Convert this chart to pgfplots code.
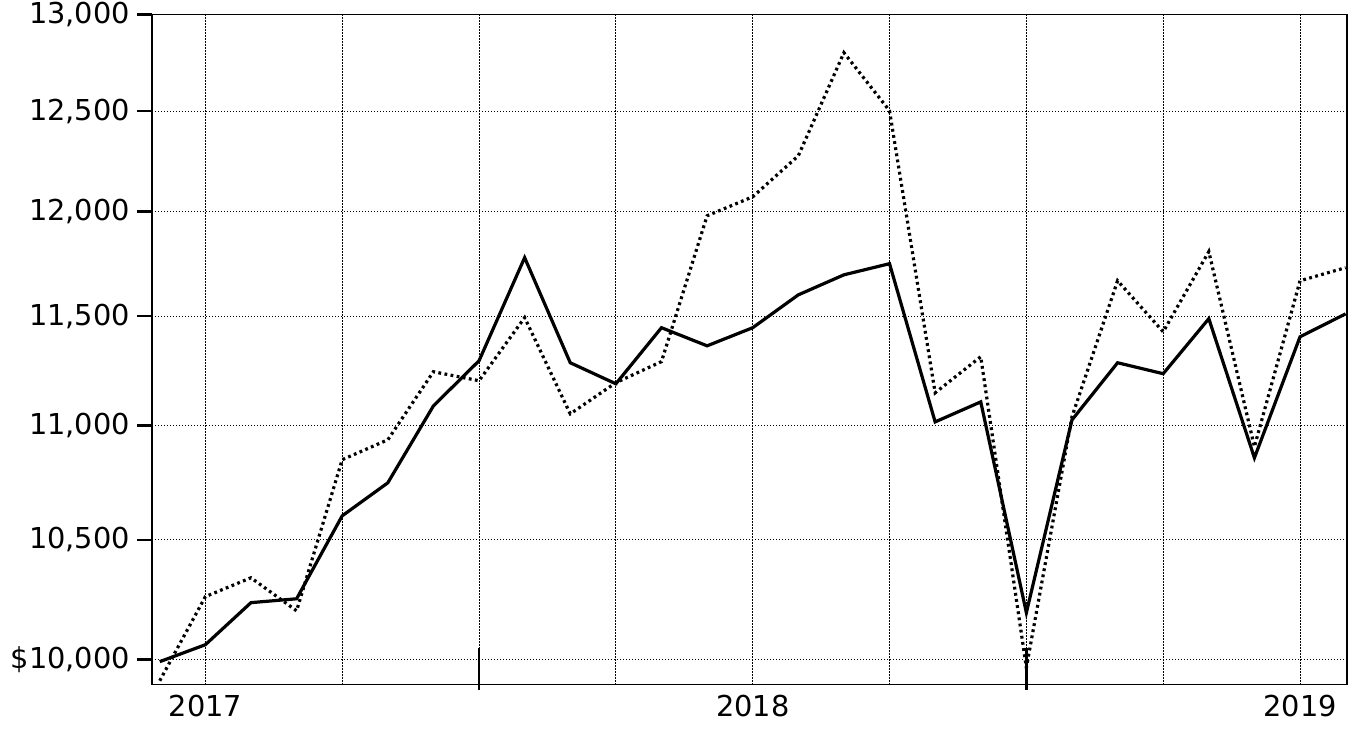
\documentclass[border=0pt]{standalone}
\usepackage{fontspec}
\setmainfont{DejaVu Sans}
\usepackage{pgfplots}
\pgfplotsset{compat=1.18}
\begin{document}
\begin{tikzpicture}
\useasboundingbox (-76pt,-27.5pt) rectangle (605.5pt,342.5pt);
\begin{axis}[
  at={(0,0)}, anchor=south west,
  scale only axis, width=597.5pt, height=335pt,
  xmin=-1.17, xmax=25.03,
  ymode=log, ymin=9899, ymax=13000,
  xtick={0,3,...,24},
  xticklabels={2017,,,,2018,,,,2019},
  ytick={10000,10500,11000,11500,12000,12500,13000},
  yticklabels={{\$10,000},{10,500},{11,000},{11,500},{12,000},{12,500},{13,000}},
  yminorticks=false, xminorticks=false,
  ytick pos=left, xtick pos=bottom,
  tick align=outside,
  major tick length=7.5pt,
  y tick style={line width=1.3pt, black},
  x tick style={draw=none},
  tick label style={font=\fontsize{14.4}{17}\selectfont, black},
  xticklabel style={yshift=6pt},
  xmajorgrids, ymajorgrids,
  grid style={black, line width=0.5pt, dash pattern=on 0.7pt off 0.8pt},
  axis line style={line width=0.6pt, black},
  clip=false,
]
\addplot[black, line width=1.6pt, dash pattern=on 1.4pt off 1.7pt] coordinates {
(-1,9915) (0,10260) (1,10339) (2,10201) (3,10848) (4,10936) (5,11243) (6,11202)
(7,11493) (8,11052) (9,11193) (10,11289) (11,11979) (12,12072) (13,12275) (14,12801)
(15,12502) (16,11147) (17,11312) (18,9968) (19,11039) (20,11667) (21,11427) (22,11806)
(23,10905) (24,11667) (25,11729)};
\addplot[black, line width=1.6pt] coordinates {
(-1,9992) (0,10061) (1,10235) (2,10251) (3,10603) (4,10746) (5,11088) (6,11293)
(7,11777) (8,11284) (9,11188) (10,11446) (11,11362) (12,11446) (13,11600) (14,11695)
(15,11748) (16,11016) (17,11106) (18,10193) (19,11025) (20,11284) (21,11234) (22,11488)
(23,10856) (24,11404) (25,11511)};
\draw[line width=1.2pt] ([yshift=-2.5pt]axis cs:6,9899) -- ([yshift=18.5pt]axis cs:6,9899);
\draw[line width=1.2pt] ([yshift=-2.5pt]axis cs:18,9899) -- ([yshift=18.5pt]axis cs:18,9899);
\end{axis}
\end{tikzpicture}
\end{document}
